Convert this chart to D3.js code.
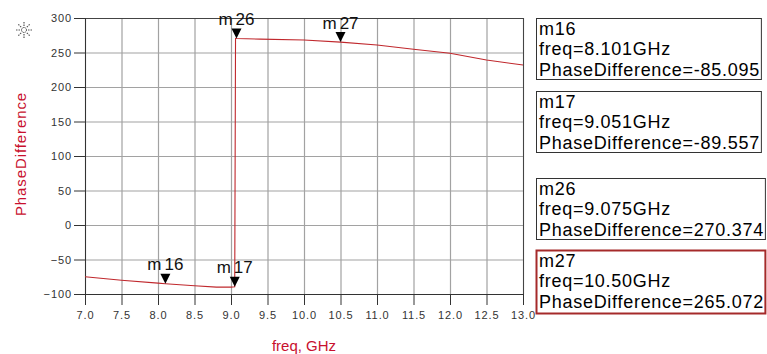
<!DOCTYPE html>
<html>
<head>
<meta charset="utf-8">
<script src="https://cdn.jsdelivr.net/npm/d3@7"></script>
<style>
  body { margin: 0; background: #fff; }
  text { font-family: "Liberation Sans", Arial, sans-serif; }
</style>
</head>
<body>
<div id="chart-area"></div>
<script>
// trace data
const freq = [7.0, 7.5, 8.0, 8.101, 8.5, 8.8, 9.0, 9.051, 9.062, 9.075, 9.4, 10.0, 10.5, 11.0, 11.5, 12.0, 12.5, 13.0]
const phase = [-75, -80, -84.3, -85.095, -88, -90, -90, -89.557, 270.6, 270.374, 269.4, 268.1, 265.072, 260.9, 254.6, 248.8, 239.1, 231.9]

const xTicks = [7.0, 7.5, 8.0, 8.5, 9.0, 9.5, 10.0, 10.5, 11.0, 11.5, 12.0, 12.5, 13.0]
const yTicks = [-100, -50, 0, 50, 100, 150, 200, 250, 300]

// markers
const markerNames = ['m16', 'm17', 'm26', 'm27']
const markerFreq = [8.101, 9.051, 9.075, 10.50]
const markerFreqText = ['8.101', '9.051', '9.075', '10.50']
const markerPhase = [-85.095, -89.557, 270.374, 265.072]
const markerPhaseText = ['-85.095', '-89.557', '270.374', '265.072']

const MARGIN = {LEFT: 85, TOP: 18}
const WIDTH = 438
const HEIGHT = 276
const RED = '#c8102e'

const svg = d3.select('#chart-area')
  .append('svg')
  .attr('width', 767)
  .attr('height', 354)

const g = svg.append('g')
  .attr('transform', `translate(${MARGIN.LEFT},${MARGIN.TOP})`)

const x = d3.scaleLinear().domain([7, 13]).range([0, WIDTH])
const y = d3.scaleLinear().domain([-100, 300]).range([HEIGHT, 0])

// grid via axes with full-length ticks
g.append('g')
  .attr('class', 'grid')
  .call(d3.axisBottom(x).tickValues(xTicks).tickSize(HEIGHT).tickFormat(''))
  .call(a => a.select('.domain').remove())
  .call(a => a.selectAll('line').attr('stroke', '#a2a2a2').attr('stroke-width', 1.2))
g.append('g')
  .attr('class', 'grid')
  .call(d3.axisRight(y).tickValues(yTicks).tickSize(WIDTH).tickFormat(''))
  .call(a => a.select('.domain').remove())
  .call(a => a.selectAll('line').attr('stroke', '#a2a2a2').attr('stroke-width', 1.2))

// frame
g.append('rect')
  .attr('x', 0.5).attr('y', 0.5)
  .attr('width', WIDTH).attr('height', HEIGHT)
  .attr('fill', 'none')
  .attr('stroke', '#444')

// axes
const xAxisCall = d3.axisBottom(x)
  .tickValues(xTicks)
  .tickSize(11)
  .tickPadding(6)
  .tickFormat(d3.format('.1f'))
const xAxis = g.append('g')
  .attr('transform', `translate(0,${HEIGHT})`)
  .call(xAxisCall)
const yAxisCall = d3.axisLeft(y)
  .tickValues(yTicks)
  .tickSize(11)
  .tickPadding(2)
const yAxis = g.append('g').call(yAxisCall)

;[xAxis, yAxis].forEach(a => {
  a.select('.domain').attr('stroke', '#333')
  a.selectAll('.tick line').attr('stroke', '#333')
  a.selectAll('.tick text')
    .attr('fill', '#333')
    .attr('font-size', '11px')
    .attr('letter-spacing', '0.9px')
    .attr('font-family', '"Liberation Sans", Arial, sans-serif')
})

// axis labels
svg.append('text')
  .attr('x', 304).attr('y', 351)
  .attr('text-anchor', 'middle')
  .attr('font-size', '15px')
  .attr('fill', RED)
  .text('freq, GHz')

svg.append('text')
  .attr('transform', 'translate(26,154) rotate(-90)')
  .attr('text-anchor', 'middle')
  .attr('font-size', '15px')
  .attr('letter-spacing', '0.9px')
  .attr('fill', RED)
  .text('PhaseDifference')

// little sun icon
const icon = svg.append('g').attr('transform', 'translate(24,30)')
d3.range(8).forEach(i => {
  const a = i * Math.PI / 4
  icon.append('line')
    .attr('x1', Math.cos(a) * 4).attr('y1', Math.sin(a) * 4)
    .attr('x2', Math.cos(a) * 8).attr('y2', Math.sin(a) * 8)
    .attr('stroke', '#555')
    .attr('stroke-width', 1.2)
    .attr('stroke-dasharray', '1.5,1')
})
icon.append('circle').attr('r', 2.5).attr('fill', 'none').attr('stroke', '#333').attr('stroke-dasharray', '1.2,0.8')

// trace
const pts = freq.map((f, i) => [f, phase[i]])
const lineGen = d3.line().x(d => x(d[0])).y(d => y(d[1]))
g.append('path')
  .datum(pts)
  .attr('d', lineGen)
  .attr('fill', 'none')
  .attr('stroke', '#c0282d')
  .attr('stroke-width', 1.1)

// markers on the trace
markerNames.forEach((name, i) => {
  const mx = x(markerFreq[i])
  const my = y(markerPhase[i])
  g.append('path')
    .attr('d', `M${mx - 5},${my - 10}L${mx + 5},${my - 10}L${mx},${my}Z`)
    .attr('fill', '#000')
  const t = g.append('text')
    .attr('x', mx).attr('y', my - 13.5)
    .attr('text-anchor', 'middle')
    .attr('font-size', '17px')
    .attr('fill', '#111')
  t.append('tspan').text('m')
  t.append('tspan').attr('dx', 3).text(name.slice(1))
})

// marker readout boxes
const boxTops = [18.5, 91.5, 178.5, 250.5]
markerNames.forEach((name, i) => {
  const bg = svg.append('g').attr('transform', `translate(536.5,${boxTops[i]})`)
  const rect = bg.append('rect')
  const lines = [name, `freq=${markerFreqText[i]}GHz`, `PhaseDifference=${markerPhaseText[i]}`]
  let maxW = 0
  lines.forEach((s, k) => {
    const t = bg.append('text')
      .attr('x', 2.5).attr('y', 16 + k * 20.5)
      .attr('font-size', '18px')
      .attr('letter-spacing', '0.72px')
      .attr('fill', '#000')
      .text(s)
    maxW = Math.max(maxW, t.node().getBBox().width)
  })
  rect.attr('x', 0).attr('y', 0)
    .attr('width', maxW + 4)
    .attr('height', i === 3 ? 63 : 61)
    .attr('fill', '#fff')
    .attr('stroke', i === 3 ? '#a52a2a' : '#333')
    .attr('stroke-width', i === 3 ? 2 : 1)
})
</script>
</body>
</html>
